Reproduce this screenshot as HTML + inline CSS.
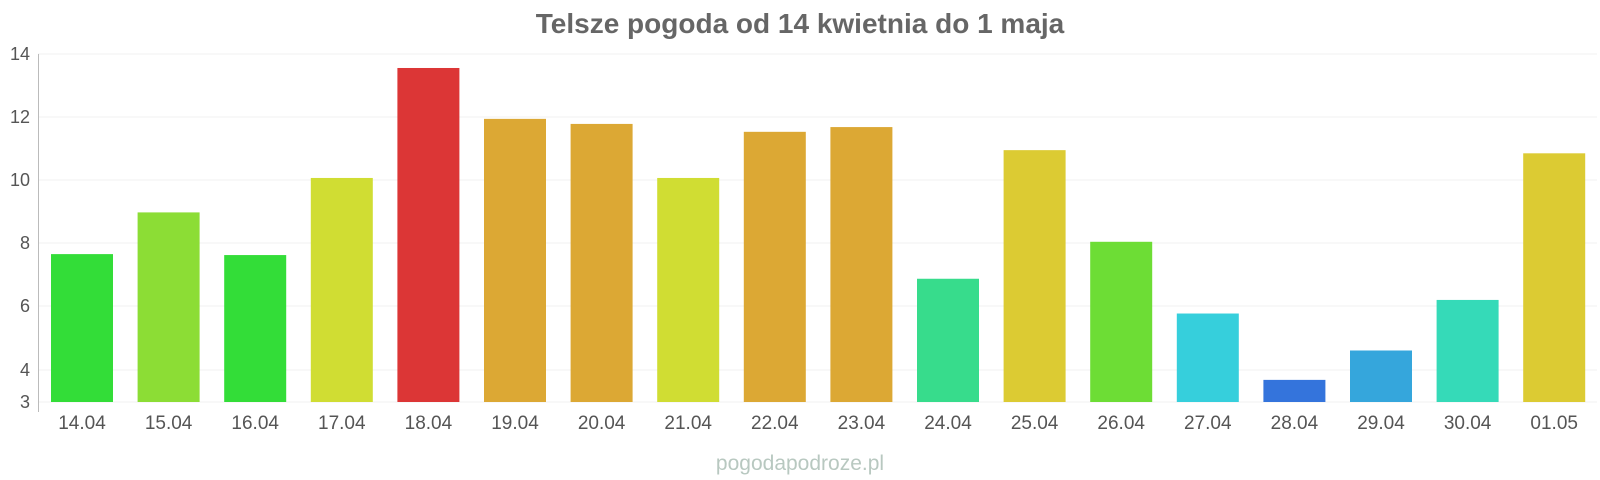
<!DOCTYPE html>
<html><head><meta charset="utf-8"><style>body{margin:0;background:#fff}svg{display:block}</style></head>
<body>
<svg width="1600" height="480" xmlns="http://www.w3.org/2000/svg" font-family="Liberation Sans, sans-serif">
<text x="800" y="33" text-anchor="middle" font-size="28" font-weight="bold" fill="#666">Telsze pogoda od 14 kwietnia do 1 maja</text>
<g stroke="#f0f0f0" stroke-width="1">
<line x1="38" x2="1597" y1="54" y2="54"/><line x1="38" x2="1597" y1="117" y2="117"/><line x1="38" x2="1597" y1="180" y2="180"/><line x1="38" x2="1597" y1="243" y2="243"/><line x1="38" x2="1597" y1="306" y2="306"/><line x1="38" x2="1597" y1="370" y2="370"/><line x1="38" x2="1597" y1="402" y2="402"/>
</g>
<line x1="38.5" x2="38.5" y1="54" y2="412" stroke="#bbb"/>
<g font-size="18" fill="#555" text-anchor="end">
<text x="30" y="60">14</text><text x="30" y="123">12</text><text x="30" y="186">10</text><text x="30" y="249">8</text><text x="30" y="312">6</text><text x="30" y="376">4</text><text x="30" y="408">3</text>
</g>
<g id="bars"></g>
<g id="labels" font-size="19" fill="#555" text-anchor="middle"></g>
<text x="800" y="470" text-anchor="middle" font-size="21" fill="#b8c8c0">pogodapodroze.pl</text>
<script>
var v=[7.68,9.0,7.65,10.09,13.57,11.96,11.8,10.09,11.55,11.7,6.9,10.97,8.07,5.8,3.7,4.63,6.23,10.87];
var c=["#33dd38","#8cdd35","#33dd38","#d0dd33","#dc3636","#dca834","#dca834","#d0dd33","#dca834","#dca834","#37dc8c","#dccb33","#6ddd35","#36cfdc","#3474dc","#35a6dc","#35dab8","#dccb33"];
var l=["14.04","15.04","16.04","17.04","18.04","19.04","20.04","21.04","22.04","23.04","24.04","25.04","26.04","27.04","28.04","29.04","30.04","01.05"];
var ns="http://www.w3.org/2000/svg",b=document.getElementById("bars"),lb=document.getElementById("labels");
for(var i=0;i<18;i++){var cx=82+i*86.6,t=402-(v[i]-3)*31.6;
var r=document.createElementNS(ns,"rect");r.setAttribute("x",cx-31);r.setAttribute("width",62);r.setAttribute("y",t);r.setAttribute("height",402-t);r.setAttribute("fill",c[i]);b.appendChild(r);
var tx=document.createElementNS(ns,"text");tx.setAttribute("x",cx);tx.setAttribute("y",429);tx.textContent=l[i];lb.appendChild(tx);}
</script>
</svg>
</body></html>
